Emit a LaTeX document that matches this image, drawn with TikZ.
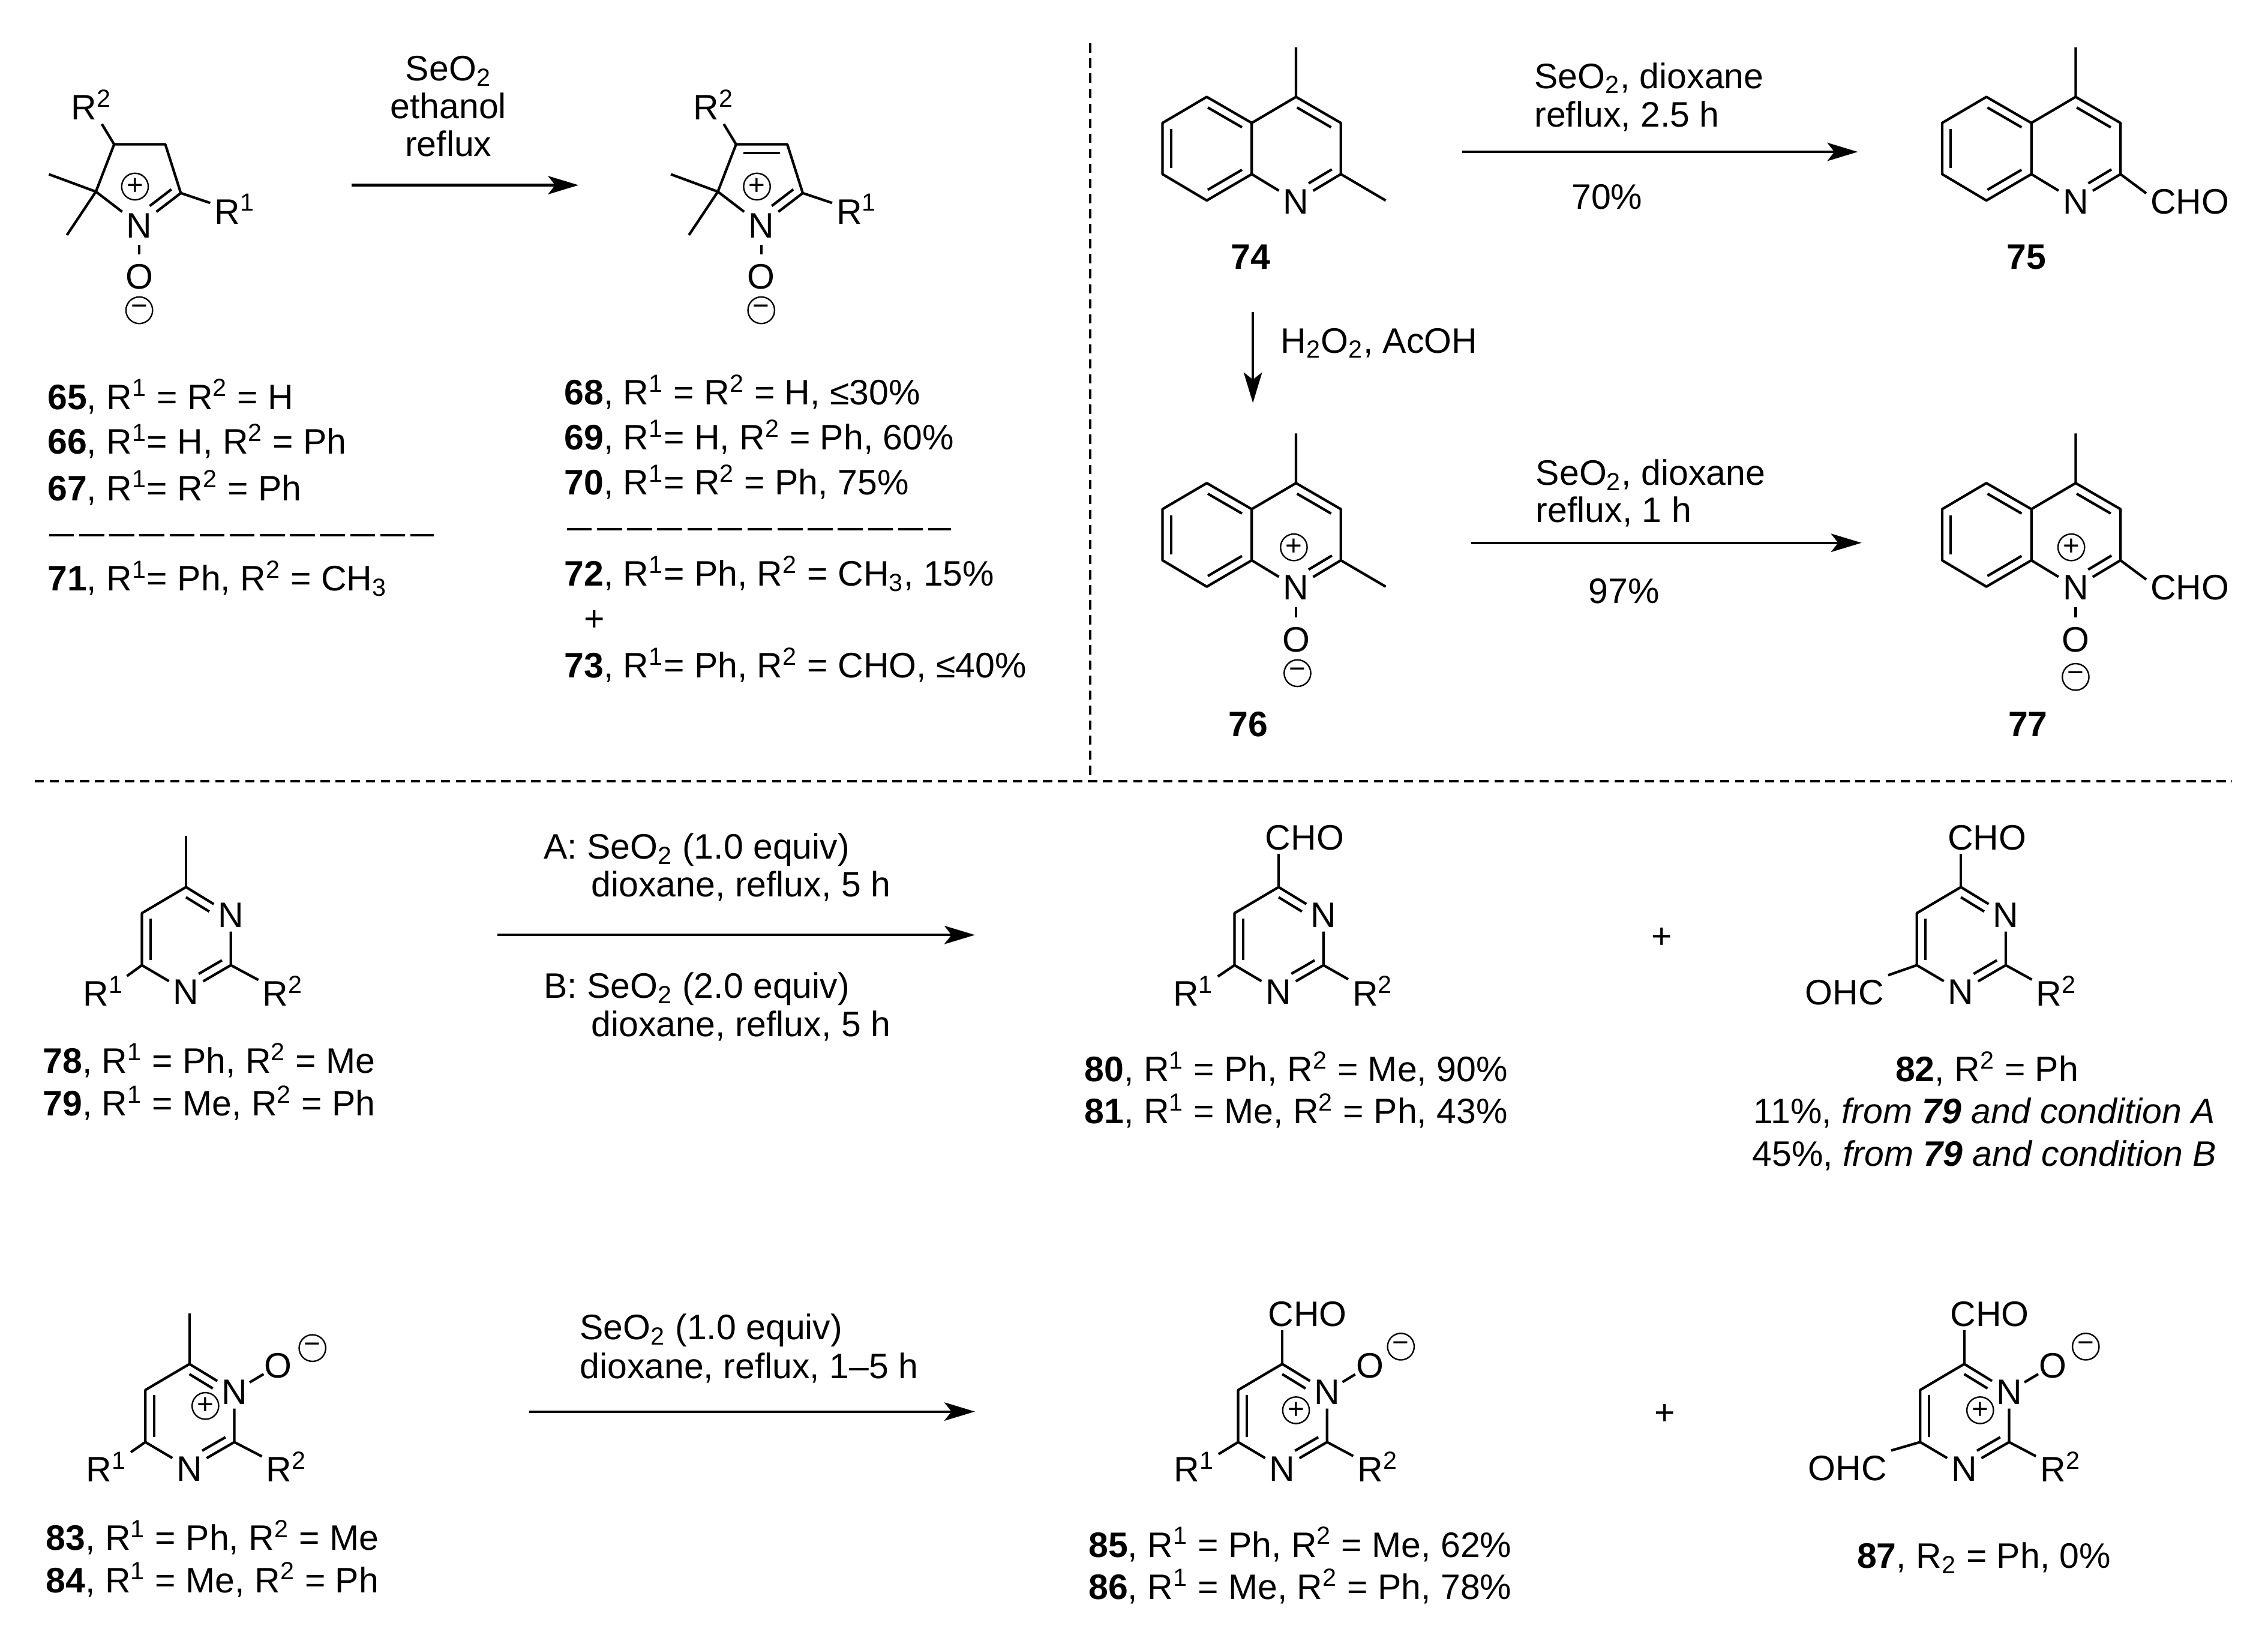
\documentclass[tikz,border=0pt]{standalone}
\usepackage{fontspec}
\setmainfont{Liberation Sans}
\usepackage{tikz}
\usetikzlibrary{arrows.meta, calc}

\newcommand{\Ra}{R\textsuperscript{1}}
\newcommand{\Rb}{R\textsuperscript{2}}
\newcommand{\Se}{SeO\textsubscript{2}}

% inner line of a double bond, left of the way from #1 to #2
\newcommand{\inbond}[4]{\draw ($(#1)!#3!(#2)!0.15cm!90:(#2)$) -- ($(#2)!#4!(#1)!0.15cm!-90:(#1)$);}

% five membered ring, origin on N
\newcommand{\fivering}{
	\node[atom] (n) at (0,0) {N};
	\coordinate (c2) at (-30,-23);
	\coordinate (c3) at (-17.4,-55.7);
	\coordinate (c4) at (18,-55.7);
	\coordinate (c5) at (28.7,-22);
	\draw (n) -- (c2) -- (c3) -- (c4) -- (c5) -- (n);
	\inbond{n}{c5}{.38}{.1}
	\coordinate (mea) at (-62.5,-35);
	\coordinate (meb) at (-50,7);
	\draw (mea) -- (c2) -- (meb);
	\node[atom] (ra) at (66,-9.5) {\Ra};
	\node[atom] (rb) at (-33,-81.5) {\Rb};
	\draw (c5) -- (ra);
	\draw (c3) -- (rb);
	\node[chg] (plus) at (-3,-26.5) {+};
	\node[atom] (o) at (0,35.5) {O};
	\draw[nobond] (n) -- (o);
	\node[chg] (minus) at (0,59) {−};
}

% quinoline ring, origin on C4
\newcommand{\quinring}{
	\coordinate (c4) at (0,0);
	\coordinate (c3) at (31,18);
	\coordinate (c2) at (31,53.4);
	\node[atom] (n) at (0,72) {N};
	\coordinate (c8a) at (-30.6,53.4);
	\coordinate (c4a) at (-30.6,18);
	\coordinate (c5) at (-61.7,0);
	\coordinate (c6) at (-92.3,18);
	\coordinate (c7) at (-92.3,53.4);
	\coordinate (c8) at (-61.7,71.6);
	\coordinate (me) at (0,-34.3);
	\draw (me) -- (c4) -- (c3) -- (c2) -- (n) -- (c8a) -- (c4a) -- (c4);
	\draw (c4a) -- (c5) -- (c6) -- (c7) -- (c8) -- (c8a);
	\inbond{c3}{c4}{.12}{.12}
	\inbond{n}{c2}{.38}{.1}
	\inbond{c4a}{c5}{.12}{.12}
	\inbond{c6}{c7}{.12}{.12}
	\inbond{c8}{c8a}{.12}{.12}
}

% pyrimidine ring, origin on C4
\newcommand{\pyrimring}{
	\coordinate (c4) at (0,0);
	\coordinate (c5) at (-30.5,18);
	\coordinate (c6) at (-30.5,54);
	\coordinate (c2) at (31,54);
	\node[atom] (na) at (0,72) {N};
	\node[atom] (nc) at (31,19) {N};
	\draw (c4) -- (c5) -- (c6) -- (na) -- (c2) -- (nc) -- (c4);
	\inbond{c5}{c6}{.1}{.1}
	\inbond{na}{c2}{.38}{.1}
	\inbond{nc}{c4}{.38}{.1}
}

\begin{document}
\begin{tikzpicture}[x=0.025cm,y=-0.025cm,line width=1.25pt,line join=round,
	every node/.style={font=\fontsize{17.4}{20}\selectfont},
	atom/.style={inner sep=1.5pt,text height=12.5pt,text depth=0pt},
	lbl/.style={anchor=base west,inner sep=0pt},
	mid/.style={anchor=base,inner sep=0pt},
	chg/.style={draw,circle,line width=0.7pt,inner sep=0pt,minimum size=0.46cm,
		font=\fontsize{14}{14}\selectfont},
	nobond/.style={shorten <=1.5pt,shorten >=2.5pt},
	oxbond/.style={shorten <=-1pt,shorten >=-2pt},
	rxn/.style={line width=1.25pt,-{Stealth[length=15pt,width=9pt,inset=3.5pt]}},
	sep/.style={line width=1.1pt,dash pattern=on 0.16cm off 0.1cm},
	rule/.style={line width=1.25pt,dash pattern=on 0.43cm off 0.09cm}]
	\useasboundingbox (0,0) rectangle (1568,1128);

	% Separators
	\coordinate (vsa) at (753.7,30);
	\coordinate (vsb) at (753.7,540);
	\coordinate (hsa) at (24,540);
	\coordinate (hsb) at (1543,540);
	\draw[sep] (vsa) -- (vsb);
	\draw[sep] (hsa) -- (hsb);

	% Top left reaction
	\begin{scope}[shift={(96.3,155.5)},name prefix=sa-]
		\fivering
	\end{scope}
	\begin{scope}[shift={(526.3,155.5)},name prefix=sb-]
		\fivering
		\inbond{c4}{c3}{.14}{.14}
	\end{scope}
	\coordinate (aas) at (243,128);
	\coordinate (aae) at (400,128);
	\draw[rxn] (aas) -- (aae);
	\node[mid] (ta) at (310,56) {\Se};
	\node[mid] (tb) at (310,82) {ethanol};
	\node[mid] (tc) at (310,108) {reflux};

	\node[lbl] (la) at (32,283) {\textbf{65}, \Ra{} = \Rb{} = H};
	\node[lbl] (lb) at (32,314) {\textbf{66}, \Ra= H, \Rb{} = Ph};
	\node[lbl] (lc) at (32,346) {\textbf{67}, \Ra= \Rb{} = Ph};
	\coordinate (dla) at (34,370);
	\coordinate (dlb) at (300,370);
	\draw[rule] (dla) -- (dlb);
	\node[lbl] (ld) at (32,408.5) {\textbf{71}, \Ra= Ph, \Rb{} = CH\textsubscript{3}};

	\node[lbl] (le) at (389.3,280) {\textbf{68}, \Ra{} = \Rb{} = H, ≤30\%};
	\node[lbl] (lf) at (389.3,311) {\textbf{69}, \Ra= H, \Rb{} = Ph, 60\%};
	\node[lbl] (lg) at (389.3,342) {\textbf{70}, \Ra= \Rb{} = Ph, 75\%};
	\coordinate (dra) at (392,366);
	\coordinate (drb) at (657.4,366);
	\draw[rule] (dra) -- (drb);
	\node[lbl] (lh) at (389.3,405) {\textbf{72}, \Ra= Ph, \Rb{} = CH\textsubscript{3}, 15\%};
	\node[mid] (lplus) at (411,436) {+};
	\node[lbl] (li) at (389.3,468.5) {\textbf{73}, \Ra= Ph, \Rb{} = CHO, ≤40\%};

	% Top right quinolines
	\begin{scope}[shift={(896,67)},name prefix=qa-]
		\quinring
		\coordinate (mb) at (62,71.6);
		\draw (c2) -- (mb);
	\end{scope}
	\begin{scope}[shift={(1435,67)},name prefix=qb-]
		\quinring
		\node[atom] (cho) at (79,72) {CHO};
		\draw (c2) -- (cho.170);
	\end{scope}
	\begin{scope}[shift={(896,334)},name prefix=qc-]
		\quinring
		\coordinate (mb) at (62,71.6);
		\draw (c2) -- (mb);
		\node[chg] (plus) at (-1.5,44.4) {+};
		\node[atom] (o) at (0,108) {O};
		\draw[nobond] (n) -- (o);
		\node[chg] (minus) at (1,131.4) {−};
	\end{scope}
	\begin{scope}[shift={(1435,334)},name prefix=qd-]
		\quinring
		\node[atom] (cho) at (79,72) {CHO};
		\draw (c2) -- (cho.170);
		\node[chg] (plus) at (-3,44.4) {+};
		\node[atom] (o) at (0,108) {O};
		\draw[nobond] (n) -- (o);
		\node[chg] (minus) at (0,134) {−};
	\end{scope}

	\node[mid] (n74) at (864.6,186) {\textbf{74}};
	\node[mid] (n75) at (1401,186) {\textbf{75}};
	\node[mid] (n76) at (863,509) {\textbf{76}};
	\node[mid] (n77) at (1402,509) {\textbf{77}};

	\coordinate (abs) at (1011,105);
	\coordinate (abe) at (1284.4,105);
	\draw[rxn] (abs) -- (abe);
	\node[lbl] (qta) at (1060,61) {\Se, dioxane};
	\node[lbl] (qtb) at (1060,87.7) {reflux, 2.5 h};
	\node[mid] (qtc) at (1111,144.5) {70\%};

	\coordinate (acs) at (866.2,215.7);
	\coordinate (ace) at (866.2,278.6);
	\draw[rxn] (acs) -- (ace);
	\node[lbl] (qtd) at (884.5,244) {H\textsubscript{2}O\textsubscript{2}, AcOH};

	\coordinate (ads) at (1017,375.3);
	\coordinate (ade) at (1287,375.3);
	\draw[rxn] (ads) -- (ade);
	\node[lbl] (qte) at (1061,335.4) {\Se, dioxane};
	\node[lbl] (qtf) at (1061,361) {reflux, 1 h};
	\node[mid] (qtg) at (1122.7,417) {97\%};

	% Pyrimidines
	\begin{scope}[shift={(128.6,613.3)},name prefix=pa-]
		\pyrimring
		\coordinate (mt) at (0,-35.3);
		\draw (c4) -- (mt);
		\node[atom] (ra) at (-57,73.3) {\Ra};
		\node[atom] (rb) at (67,73.3) {\Rb};
		\draw (c6) -- (ra);
		\draw (c2) -- (rb);
	\end{scope}
	\node[lbl] (pla) at (28.8,742) {\textbf{78}, \Ra{} = Ph, \Rb{} = Me};
	\node[lbl] (plb) at (28.8,771.5) {\textbf{79}, \Ra{} = Me, \Rb{} = Ph};

	\coordinate (aes) at (344,646.4);
	\coordinate (aee) at (674,646.4);
	\draw[rxn] (aes) -- (aee);
	\node[lbl] (pta) at (375,593.8) {A: \Se{} (1.0 equiv)};
	\node[lbl] (ptb) at (408,620) {dioxane, reflux, 5 h};
	\node[lbl] (ptc) at (375,690) {B: \Se{} (2.0 equiv)};
	\node[lbl] (ptd) at (408,716.6) {dioxane, reflux, 5 h};

	\begin{scope}[shift={(884,613.3)},name prefix=pb-]
		\pyrimring
		\node[atom] (cho) at (18,-34.6) {CHO};
		\draw (c4) -- (cho.south -| c4);
		\node[atom] (ra) at (-59,73.3) {\Ra};
		\node[atom] (rb) at (65,73.3) {\Rb};
		\draw (c6) -- (ra);
		\draw (c2) -- (rb);
	\end{scope}
	\node[lbl] (plc) at (749,747.8) {\textbf{80}, \Ra{} = Ph, \Rb{} = Me, 90\%};
	\node[lbl] (pld) at (749,776.8) {\textbf{81}, \Ra{} = Me, \Rb{} = Ph, 43\%};
	\node[mid] (pplus) at (1149,655.5) {+};

	\begin{scope}[shift={(1355.7,613.3)},name prefix=pc-]
		\pyrimring
		\node[atom] (cho) at (18,-34.6) {CHO};
		\draw (c4) -- (cho.south -| c4);
		\node[atom] (ohc) at (-80.5,72.7) {OHC};
		\node[atom] (rb) at (66,73.3) {\Rb};
		\draw (c6) -- (ohc.north east);
		\draw (c2) -- (rb);
	\end{scope}
	\node[mid] (ple) at (1373.7,747.8) {\textbf{82}, \Rb{} = Ph};
	\node[mid] (plf) at (1372,776.8) {11\%, \textit{from \textbf{79} and condition A}};
	\node[mid] (plg) at (1372,806) {45\%, \textit{from \textbf{79} and condition B}};

	% Pyrimidine N-oxides
	\begin{scope}[shift={(131,943)},name prefix=ua-]
		\pyrimring
		\coordinate (mt) at (0,-35);
		\draw (c4) -- (mt);
		\node[atom] (ra) at (-57.5,72.7) {\Ra};
		\node[atom] (rb) at (67,72.7) {\Rb};
		\draw (c6) -- (ra);
		\draw (c2) -- (rb);
		\node[atom] (o) at (61.3,1) {O};
		\draw[oxbond] (nc) -- (o);
		\node[chg] (minus) at (85,-11) {−};
		\node[chg] (plus) at (11,29) {+};
	\end{scope}
	\node[lbl] (ula) at (31,1071.7) {\textbf{83}, \Ra{} = Ph, \Rb{} = Me};
	\node[lbl] (ulb) at (31,1101) {\textbf{84}, \Ra{} = Me, \Rb{} = Ph};

	\coordinate (afs) at (366,975.9);
	\coordinate (afe) at (674,975.9);
	\draw[rxn] (afs) -- (afe);
	\node[lbl] (uta) at (400,926) {\Se{} (1.0 equiv)};
	\node[lbl] (utb) at (400,953) {dioxane, reflux, 1--5 h};

	\begin{scope}[shift={(886.5,943)},name prefix=ub-]
		\pyrimring
		\node[atom] (cho) at (17.5,-35) {CHO};
		\draw (c4) -- (cho.south -| c4);
		\node[atom] (ra) at (-61,72.7) {\Ra};
		\node[atom] (rb) at (66,72.7) {\Rb};
		\draw (c6) -- (ra);
		\draw (c2) -- (rb);
		\node[atom] (o) at (60.5,1) {O};
		\draw[oxbond] (nc) -- (o);
		\node[chg] (minus) at (82,-12) {−};
		\node[chg] (plus) at (9.5,32) {+};
	\end{scope}
	\node[lbl] (ulc) at (751.7,1076.5) {\textbf{85}, \Ra{} = Ph, \Rb{} = Me, 62\%};
	\node[lbl] (uld) at (751.7,1105.5) {\textbf{86}, \Ra{} = Me, \Rb{} = Ph, 78\%};
	\node[mid] (uplus) at (1151,985) {+};

	\begin{scope}[shift={(1358,943)},name prefix=uc-]
		\pyrimring
		\node[atom] (cho) at (17.5,-35) {CHO};
		\draw (c4) -- (cho.south -| c4);
		\node[atom] (ohc) at (-80.7,71.6) {OHC};
		\node[atom] (rb) at (66.5,72.7) {\Rb};
		\draw (c6) -- (ohc.north east);
		\draw (c2) -- (rb);
		\node[atom] (o) at (61.2,1) {O};
		\draw[oxbond] (nc) -- (o);
		\node[chg] (minus) at (84,-12) {−};
		\node[chg] (plus) at (11,32) {+};
	\end{scope}
	\node[lbl] (ule) at (1283,1084) {\textbf{87}, R\textsubscript{2} = Ph, 0\%};
\end{tikzpicture}
\end{document}
